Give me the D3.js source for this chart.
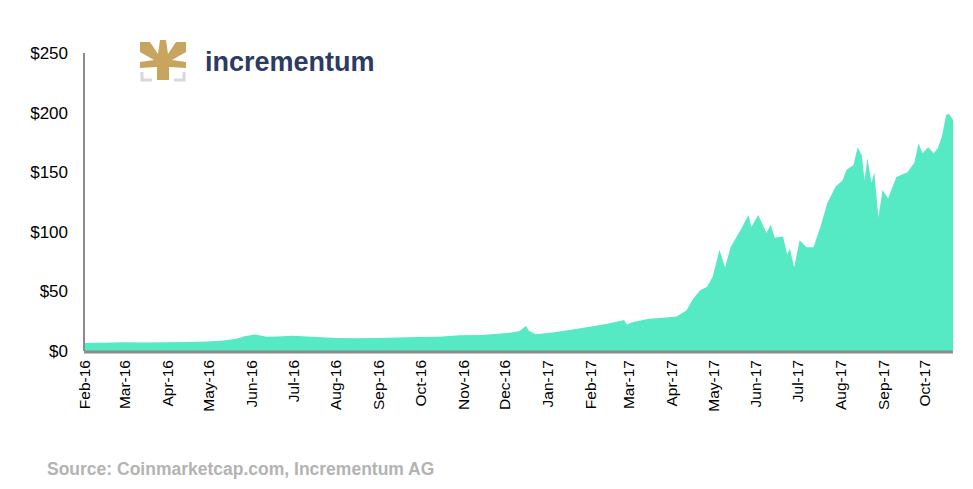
<!DOCTYPE html>
<html>
<head>
<meta charset="utf-8">
<script src="https://cdn.jsdelivr.net/npm/d3@7"></script>
<style>
  body { margin: 0; background: #fff; font-family: "Liberation Sans", Arial, sans-serif; }
</style>
</head>
<body>
<svg id="chart" width="973" height="489"></svg>
<script>
// data
const dates = [
  '2016-02-01','2016-02-15','2016-03-01','2016-03-15','2016-04-01','2016-04-15','2016-05-01','2016-05-12',
  '2016-05-22','2016-05-28','2016-06-04','2016-06-12','2016-06-20','2016-07-01','2016-07-15','2016-08-01',
  '2016-08-15','2016-09-01','2016-09-15','2016-10-01','2016-10-15','2016-10-30','2016-11-15','2016-12-03',
  '2016-12-12','2016-12-17','2016-12-19','2016-12-24','2017-01-05','2017-01-22','2017-02-13','2017-02-26',
  '2017-02-28','2017-03-03','2017-03-16','2017-03-24','2017-04-01','2017-04-05','2017-04-12','2017-04-17',
  '2017-04-22','2017-04-27','2017-05-01','2017-05-06','2017-05-10','2017-05-14','2017-05-21','2017-05-27',
  '2017-05-29','2017-06-03','2017-06-09','2017-06-12','2017-06-15','2017-06-21','2017-06-24','2017-06-26',
  '2017-06-29','2017-07-03','2017-07-08','2017-07-13','2017-07-18','2017-07-23','2017-07-29','2017-08-03',
  '2017-08-06','2017-08-11','2017-08-14','2017-08-17','2017-08-19','2017-08-21','2017-08-24','2017-08-26',
  '2017-08-29','2017-09-01','2017-09-05','2017-09-11','2017-09-19','2017-09-24','2017-09-27','2017-09-30',
  '2017-10-04','2017-10-08','2017-10-11','2017-10-14','2017-10-17','2017-10-19','2017-10-22'
];
const prices = [
  6.7, 7.0, 7.3, 7.1, 7.4, 7.6, 8.0, 8.8,
  10.5, 12.5, 13.8, 12.0, 12.2, 12.8, 12.0, 11.0,
  10.6, 11.0, 11.4, 11.8, 12.0, 13.2, 13.4, 15.0,
  16.5, 21.0, 17.0, 14.0, 15.5, 18.5, 22.6, 26.0,
  22.0, 24.0, 27.0, 27.7, 28.5, 29.0, 34.0, 44.0,
  51.0, 54.0, 62.0, 85.0, 70.0, 87.0, 101.0, 114.0,
  104.0, 114.0, 99.0, 106.0, 95.0, 96.0, 81.0, 86.0,
  70.0, 93.0, 87.0, 87.0, 104.0, 124.0, 138.0, 143.0,
  152.0, 156.0, 171.0, 164.0, 143.0, 162.0, 141.0, 150.0,
  112.0, 135.0, 128.0, 146.0, 150.0, 158.0, 174.0, 166.0,
  171.0, 166.0, 170.0, 180.0, 198.0, 199.0, 194.0
];
const monthLabels = ['Feb-16','Mar-16','Apr-16','May-16','Jun-16','Jul-16','Aug-16','Sep-16','Oct-16','Nov-16',
  'Dec-16','Jan-17','Feb-17','Mar-17','Apr-17','May-17','Jun-17','Jul-17','Aug-17','Sep-17','Oct-17'];
const yTicks = [0, 50, 100, 150, 200, 250];

const parse = d3.timeParse('%Y-%m-%d');
const series = dates.map((d, i) => ({ date: parse(d), value: prices[i] }));

const svg = d3.select('#chart');
const plotL = 84, plotR = 953, plotT = 53, plotB = 351;

const x = d3.scaleTime()
  .domain([parse('2016-02-01'), parse('2017-10-22')])
  .range([plotL, plotR]);
const y = d3.scaleLinear().domain([0, 250]).range([plotB, plotT]);

// area
svg.append('path')
  .datum(series)
  .attr('fill', '#55eac3')
  .attr('d', d3.area().x(d => x(d.date)).y0(y(0)).y1(d => y(d.value)));

// y axis
svg.append('line')
  .attr('x1', plotL).attr('x2', plotL).attr('y1', plotT).attr('y2', plotB)
  .attr('stroke', '#8c8c8c').attr('stroke-width', 2);
svg.append('g').selectAll('text')
  .data(yTicks)
  .join('text')
  .attr('x', 68).attr('y', d => y(d) + 6)
  .attr('text-anchor', 'end')
  .attr('font-size', 17)
  .attr('fill', '#000')
  .text(d => '$' + d);

// x axis
svg.append('line')
  .attr('x1', plotL).attr('x2', plotR).attr('y1', plotB + 1).attr('y2', plotB + 1)
  .attr('stroke', '#8c8c8c').attr('stroke-width', 3);
const monthStarts = d3.timeMonths(parse('2016-02-01'), parse('2017-10-02'));
svg.append('g').selectAll('text')
  .data(monthStarts)
  .join('text')
  .attr('transform', d => `translate(${x(d) + 6},360) rotate(-90)`)
  .attr('text-anchor', 'end')
  .attr('font-size', 15.5)
  .attr('fill', '#000')
  .text((d, i) => monthLabels[i]);

// source
svg.append('text')
  .attr('x', 47).attr('y', 475)
  .attr('font-size', 17.5).attr('font-weight', 'bold')
  .attr('fill', '#b3b3b3')
  .text('Source: Coinmarketcap.com, Incrementum AG');

// logo
const logo = svg.append('g').attr('transform', 'translate(140,40)');
logo.append('path')
  .attr('d', 'M0,2 L10,2 L18,14 L20,0 L26,0 L28,14 L36,2 L46,2 L46,12 L32,20 L46,22 L46,28 L29,27 L29,40 L17,40 L17,27 L0,28 L0,22 L14,20 L0,12 Z')
  .attr('fill', '#c8a55f');
logo.append('path')
  .attr('d', 'M2,32 L2,40 L12,40 M44,32 L44,40 L34,40')
  .attr('fill', 'none').attr('stroke', '#d8d8d8').attr('stroke-width', 3);
svg.append('text')
  .attr('x', 205).attr('y', 71)
  .attr('font-size', 27).attr('font-weight', 'bold')
  .attr('fill', '#2c3b63')
  .text('incrementum');
</script>
</body>
</html>
